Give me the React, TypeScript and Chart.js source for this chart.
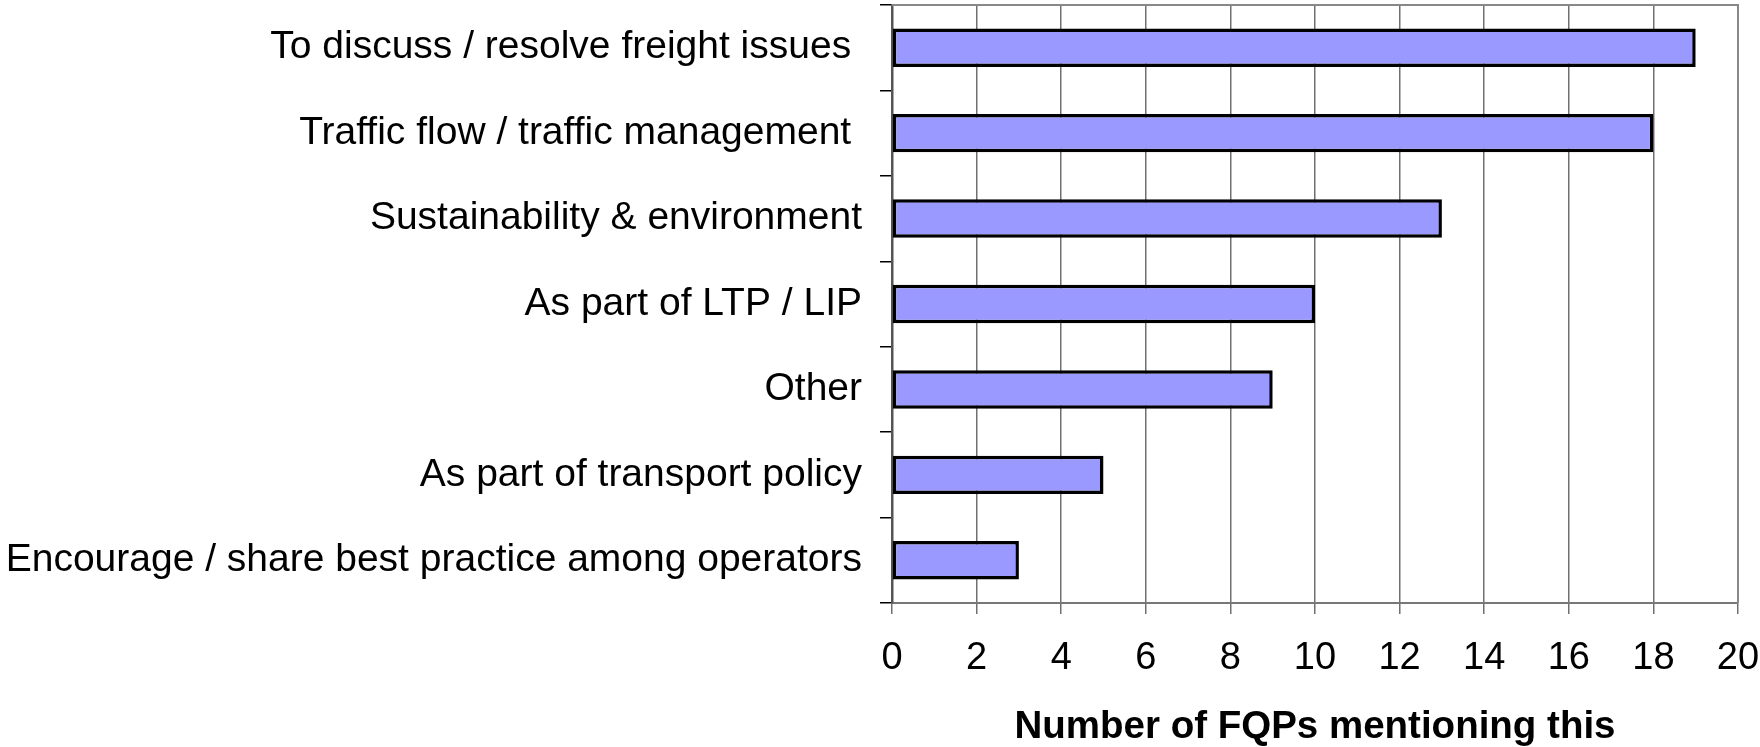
import React, { useEffect, useRef } from "react";
import { Chart, registerables } from "chart.js";

Chart.register(...registerables);

const categories = [
  "To discuss / resolve freight issues ",
  "Traffic flow / traffic management ",
  "Sustainability & environment",
  "As part of LTP / LIP",
  "Other",
  "As part of transport policy",
  "Encourage / share best practice among operators",
];
const values = [19, 18, 13, 10, 9, 5, 3];
const xTitle = "Number of FQPs mentioning this";
const xMin = 0;
const xMax = 20;
const xStep = 2;

const FONT = "'Liberation Sans', Arial, Helvetica, sans-serif";

const frameTop = {
  id: "frameTop",
  afterDraw(chart: any) {
    const { ctx, chartArea } = chart;
    ctx.save();
    ctx.strokeStyle = "#888888";
    ctx.lineWidth = 2;
    ctx.beginPath();
    ctx.moveTo(chartArea.left, chartArea.top);
    ctx.lineTo(chartArea.right, chartArea.top);
    ctx.lineTo(chartArea.right, chartArea.bottom);
    ctx.stroke();
    ctx.restore();
  },
};

export default function App() {
  const ref = useRef<HTMLCanvasElement | null>(null);
  useEffect(() => {
    if (!ref.current) return;
    const chart = new Chart(ref.current, {
      type: "bar",
      data: {
        labels: categories,
        datasets: [
          {
            data: values,
            backgroundColor: "#9999FF",
            borderColor: "#000000",
            borderWidth: 3.5,
            borderSkipped: false,
            barPercentage: 0.45,
            categoryPercentage: 1,
          },
        ],
      },
      options: {
        indexAxis: "y",
        animation: false,
        responsive: false,
        layout: { padding: { top: 5, right: 0, left: 0, bottom: 0 } },
        plugins: {
          legend: { display: false },
          tooltip: { enabled: false },
        },
        scales: {
          x: {
            min: xMin,
            max: xMax,
            ticks: {
              stepSize: xStep,
              color: "#000",
              padding: 22,
              maxRotation: 0,
              font: { family: FONT, size: 38 },
            },
            grid: {
              color: "#707070",
              lineWidth: 1.5,
              tickLength: 11,
              tickColor: "#707070",
            },
            border: { color: "#777777", width: 2 },
            title: {
              display: true,
              text: xTitle,
              color: "#000",
              font: { family: FONT, size: 38.5, weight: "bold", lineHeight: 1 },
              padding: { top: 0, bottom: 0 },
            },
            afterFit(scale: any) {
              scale.height = 144;
              scale.paddingLeft = 0;
              scale.paddingRight = 22;
            },
          },
          y: {
            ticks: {
              color: "#000",
              padding: 18,
              font: { family: FONT, size: 39 },
            },
            grid: {
              drawOnChartArea: false,
              drawTicks: true,
              tickLength: 12,
              tickColor: "#000",
              lineWidth: 1.5,
              offset: true,
            },
            border: { color: "#555555", width: 2.5 },
            afterFit(scale: any) {
              scale.width = 892;
              scale.paddingTop = 0;
              scale.paddingBottom = 0;
            },
          },
        },
      },
      plugins: [frameTop],
    });
    return () => chart.destroy();
  }, []);
  return (
    <div style={{ position: "fixed", left: 0, top: 0, width: 1760, height: 747, background: "#fff" }}>
      <canvas ref={ref} width={1760} height={747} />
    </div>
  );
}
